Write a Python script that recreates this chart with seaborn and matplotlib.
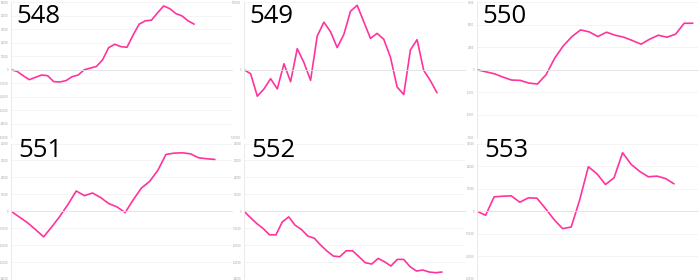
import numpy as np
import pandas as pd
import matplotlib
matplotlib.use("Agg")
import matplotlib.pyplot as plt
import seaborn as sns

sns.set_theme(style="white")
plt.rcParams['font.family'] = ['Open Sans', 'DejaVu Sans']

# ---- data ----
labels = ["548", "549", "550", "551", "552", "553"]

s548 = [0, -1220, -4390, -7320, -5610, -3900, -4390, -8780, -9020, -8050, -5120,
        -3900, 0, 1220, 2440, 7320, 16340, 18780, 17070, 16590, 25610, 33660,
        36100, 36590, 41950, 47070, 45120, 41460, 39760, 36100, 33660]
s549 = [0, -5900, -39000, -28300, -13200, -28300, 8800, -17600, 31200, 10700,
        -15600, 49800, 70200, 56100, 32700, 52200, 86300, 95100, 70700, 46300,
        53700, 44900, 18500, -25400, -36600, 29300, 44400, -1000, -16100, -34100]
s550 = [0, -221, -441, -809, -1140, -1176, -1471, -1581, -551, 1287, 2647, 3676,
        4412, 4191, 3676, 4154, 3824, 3603, 3235, 2831, 3382, 3824, 3603, 3934,
        5147, 5147]
s551 = [0, -3333, -6667, -10784, -15098, -9216, -2941, 4118, 11961, 9216, 10784,
        8039, 4510, 2549, -784, 6863, 13725, 17647, 24118, 33529, 34314, 34510,
        33922, 31569, 30980, 30588]
s552 = [0, -3725, -7255, -10196, -13922, -13922, -6275, -3333, -8235, -10784,
        -14706, -15882, -20000, -23529, -26471, -26863, -23333, -23333, -26863,
        -30392, -31176, -27843, -29804, -32353, -28431, -28431, -32745, -35294,
        -34706, -35882, -36275, -35882]
s553 = [0, -1778, 6370, 6667, 6815, 4000, 5926, 5778, 1185, -3704, -7704, -6963,
        5185, 19704, 16593, 11852, 14815, 25926, 20741, 17630, 15259, 15556,
        14519, 12148]
series = [s548, s549, s550, s551, s552, s553]

# y tick values per panel
yticks_list = [
    [-50000, -40000, -30000, -20000, -10000, 0, 10000, 20000, 30000, 40000, 50000],
    [-100000, 0, 100000],
    [-7500, -5000, -2500, 0, 2500, 5000, 7500],
    [-40000, -30000, -20000, -10000, 0, 10000, 20000, 30000, 40000],
    [-40000, -30000, -20000, -10000, 0, 10000, 20000, 30000, 40000],
    [-30000, -20000, -10000, 0, 10000, 20000, 30000],
]
# x extent of each panel (in steps)
xmax_list = [36.2, 33.2, 25.6, 27.1, 34.6, 25.8]

W, H = 700, 280
fig = plt.figure(figsize=(7, 2.8), dpi=100)
pink = "#ff339c"

for i, (lab, vals, yt, xm) in enumerate(zip(labels, series, yticks_list, xmax_list)):
    r, c = divmod(i, 3)
    x0 = c * 233.0
    y0 = 0.0 if r == 0 else 141.5
    left = (x0 + 11) / W
    width = 221 / W
    bottom = 1 - (y0 + 137.5) / H
    height = 135.5 / H
    ax = fig.add_axes([left, bottom, width, height])
    df = pd.DataFrame({"x": np.arange(len(vals)), "y": vals})
    sns.lineplot(data=df, x="x", y="y", ax=ax, color=pink, linewidth=1.2)
    ax.set_xlim(0, xm)
    ax.set_ylim(yt[0], yt[-1])
    ax.set_yticks(yt)
    ax.set_yticklabels([str(v) for v in yt], fontsize=2, color="#9a9a9a")
    ax.set_xticks(np.linspace(0, xm, 6))
    ax.set_xticklabels([])
    ax.set_xlabel("")
    ax.set_ylabel("")
    ax.grid(axis="y", color="#f3f3f3", linewidth=0.6)
    ax.set_axisbelow(True)
    for s in ["top", "right"]:
        ax.spines[s].set_visible(False)
    ax.spines["left"].set_color("#e6e6e6")
    ax.spines["left"].set_linewidth(0.6)
    ax.spines["bottom"].set_position(("data", 0))
    ax.spines["bottom"].set_color("#e2e2e2")
    ax.spines["bottom"].set_linewidth(0.6)
    ax.tick_params(axis="x", direction="out", length=2, width=0.6, color="#d8d8d8", pad=0)
    ax.tick_params(axis="y", length=1.5, width=0.4, color="#dddddd", pad=0.5)
    ax.patch.set_alpha(0)

    # panel label, placed in pixel coordinates
    tx = x0 + (16.0 if r == 0 else 18.0)
    ty = 23.0 if r == 0 else 157.0
    fig.text(tx / W, 1 - ty / H, lab, ha="left", va="baseline",
             fontsize=18.5, color="#000000", zorder=5)

fig.savefig("out.png", dpi=100)
